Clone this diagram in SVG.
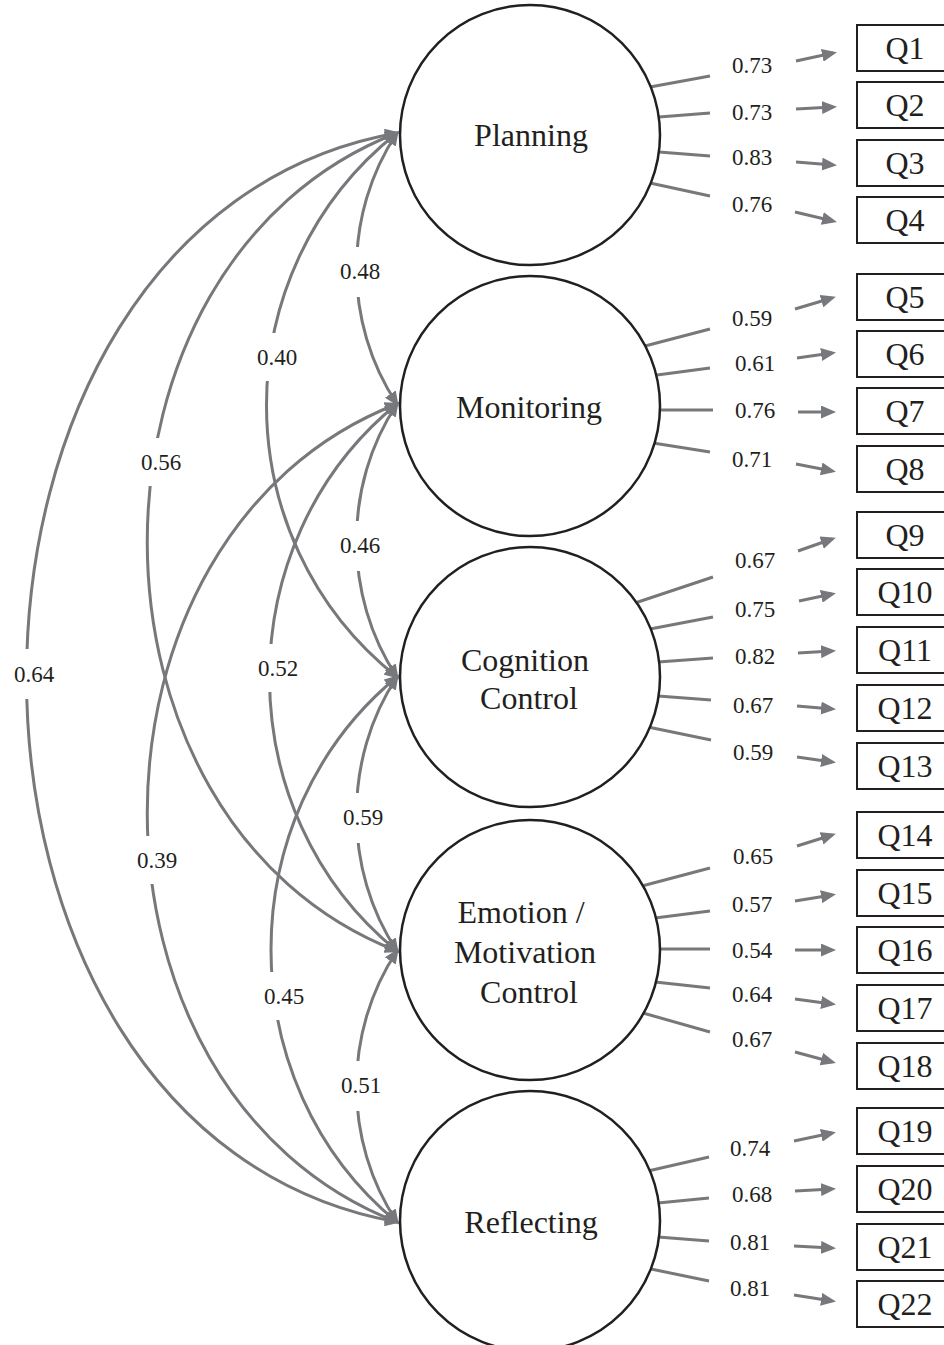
<svg xmlns="http://www.w3.org/2000/svg" width="944" height="1345" viewBox="0 0 944 1345">
<style>
.circ{fill:#fff;stroke:#231f20;stroke-width:2.5}
.box{fill:#fff;stroke:#231f20;stroke-width:2}
.t{font-family:"Liberation Serif","Times New Roman",serif;fill:#231f20;text-anchor:middle}
.big{font-size:32px}
.lbl{font-size:23px}
.load{stroke:#77787b;stroke-width:3;fill:none}
.arr{stroke:#77787b;stroke-width:3;fill:none;marker-end:url(#ah)}
.cov{stroke:#77787b;stroke-width:3;fill:none;marker-start:url(#ah2);marker-end:url(#ah2)}
.bg{fill:#fff}
</style>
<defs>
<marker id="ah" markerUnits="userSpaceOnUse" markerWidth="15" markerHeight="13" viewBox="0 0 15 13" refX="11" refY="6.5" orient="auto"><path d="M0,0 L15,6.5 L0,13 z" fill="#77787b"/></marker>
<marker id="ah2" markerUnits="userSpaceOnUse" markerWidth="15" markerHeight="13" viewBox="0 0 15 13" refX="12" refY="6.5" orient="auto-start-reverse"><path d="M0,0 L15,6.5 L0,13 z" fill="#77787b"/></marker>
</defs>
<rect width="944" height="1345" fill="#fff"/>
<g id="connectors">
<g id="covariances">
<path class="cov" d="M397 133 C343 214 343 323 397 404"/>
<path class="cov" d="M397 404 C343 485 343 596 397 677"/>
<path class="cov" d="M397 677 C343 758 343 870 397 951"/>
<path class="cov" d="M397 951 C343 1032 343 1141 397 1222"/>
<path class="cov" d="M397 133 C223 271 223 539 397 677"/>
<path class="cov" d="M397 404 C227 542 227 813 397 951"/>
<path class="cov" d="M397 677 C229 815 229 1084 397 1222"/>
<path class="cov" d="M397 133 C64 262 64 822 397 951"/>
<path class="cov" d="M397 404 C64 533 64 1093 397 1222"/>
<path class="cov" d="M397 133 C-97 221 -97 1134 397 1222"/>
</g>
<g id="cov-labels">
<rect class="bg" x="336" y="247" width="48" height="50"/><text class="t lbl" x="360" y="279">0.48</text>
<rect class="bg" x="336" y="521" width="48" height="50"/><text class="t lbl" x="360" y="553">0.46</text>
<rect class="bg" x="339" y="793" width="48" height="50"/><text class="t lbl" x="363" y="825">0.59</text>
<rect class="bg" x="337" y="1061" width="48" height="50"/><text class="t lbl" x="361" y="1093">0.51</text>
<rect class="bg" x="253" y="333" width="48" height="48"/><text class="t lbl" x="277" y="365">0.40</text>
<rect class="bg" x="254" y="644" width="48" height="48"/><text class="t lbl" x="278" y="676">0.52</text>
<rect class="bg" x="260" y="972" width="48" height="48"/><text class="t lbl" x="284" y="1004">0.45</text>
<rect class="bg" x="137" y="438" width="48" height="48"/><text class="t lbl" x="161" y="470">0.56</text>
<rect class="bg" x="133" y="836" width="48" height="48"/><text class="t lbl" x="157" y="868">0.39</text>
<rect class="bg" x="10" y="649" width="48" height="50"/><text class="t lbl" x="34" y="682">0.64</text>
</g>
<g id="loadings">
<path class="load" d="M650 87 L710 76"/><path class="load" d="M659 117 L710 113"/><path class="load" d="M659 152 L710 156"/><path class="load" d="M650 183 L710 196"/>
<path class="load" d="M645 346 L710 329"/><path class="load" d="M657 375 L710 368"/><path class="load" d="M658 410 L713 410"/><path class="load" d="M653 443 L710 452"/>
<path class="load" d="M635 603 L713 577"/><path class="load" d="M650 629 L713 617"/><path class="load" d="M658 662 L713 658"/><path class="load" d="M658 696 L711 700"/><path class="load" d="M648 727 L711 740"/>
<path class="load" d="M642 886 L710 868"/><path class="load" d="M655 918 L710 911"/><path class="load" d="M659 949 L710 949"/><path class="load" d="M655 982 L710 988"/><path class="load" d="M643 1013 L710 1032"/>
<path class="load" d="M648 1171 L709 1157"/><path class="load" d="M658 1203 L709 1198"/><path class="load" d="M658 1237 L709 1241"/><path class="load" d="M651 1269 L709 1281"/>
</g>
<g id="arrows">
<path class="arr" d="M796 61 L833 53"/><path class="arr" d="M796 109 L833 107"/><path class="arr" d="M796 162 L833 165"/><path class="arr" d="M795 212 L833 221"/>
<path class="arr" d="M795 309 L832 298"/><path class="arr" d="M797 358 L832 353"/><path class="arr" d="M798 412 L832 412"/><path class="arr" d="M796 464 L832 471"/>
<path class="arr" d="M798 551 L832 539"/><path class="arr" d="M799 601 L832 594"/><path class="arr" d="M798 653 L832 651"/><path class="arr" d="M797 706 L832 709"/><path class="arr" d="M797 757 L832 762"/>
<path class="arr" d="M797 846 L832 835"/><path class="arr" d="M795 901 L832 895"/><path class="arr" d="M795 950 L832 950"/><path class="arr" d="M795 999 L832 1004"/><path class="arr" d="M795 1052 L832 1062"/>
<path class="arr" d="M794 1141 L832 1133"/><path class="arr" d="M795 1191 L832 1189"/><path class="arr" d="M794 1246 L832 1248"/><path class="arr" d="M794 1295 L832 1301"/>
</g>
<g id="loading-labels">
<text class="t lbl" x="752" y="73">0.73</text><text class="t lbl" x="752" y="120">0.73</text><text class="t lbl" x="752" y="165">0.83</text><text class="t lbl" x="752" y="212">0.76</text>
<text class="t lbl" x="752" y="326">0.59</text><text class="t lbl" x="755" y="371">0.61</text><text class="t lbl" x="755" y="418">0.76</text><text class="t lbl" x="752" y="467">0.71</text>
<text class="t lbl" x="755" y="568">0.67</text><text class="t lbl" x="755" y="617">0.75</text><text class="t lbl" x="755" y="664">0.82</text><text class="t lbl" x="753" y="713">0.67</text><text class="t lbl" x="753" y="760">0.59</text>
<text class="t lbl" x="753" y="864">0.65</text><text class="t lbl" x="752" y="912">0.57</text><text class="t lbl" x="752" y="958">0.54</text><text class="t lbl" x="752" y="1002">0.64</text><text class="t lbl" x="752" y="1047">0.67</text>
<text class="t lbl" x="750" y="1156">0.74</text><text class="t lbl" x="752" y="1202">0.68</text><text class="t lbl" x="750" y="1250">0.81</text><text class="t lbl" x="750" y="1296">0.81</text>
</g>
</g>
<g id="planning"><circle class="circ" cx="530" cy="135" r="130"/><text class="t big" x="531" y="146">Planning</text></g>
<g id="monitoring"><circle class="circ" cx="530" cy="406" r="130"/><text class="t big" x="529" y="418">Monitoring</text></g>
<g id="cognition"><circle class="circ" cx="530" cy="677" r="130"/><text class="t big" x="525" y="671">Cognition</text><text class="t big" x="529" y="709">Control</text></g>
<g id="emotion"><circle class="circ" cx="530" cy="950" r="130"/><text class="t big" x="521" y="923">Emotion /</text><text class="t big" x="525" y="963">Motivation</text><text class="t big" x="529" y="1003">Control</text></g>
<g id="reflecting"><circle class="circ" cx="530" cy="1221" r="130"/><text class="t big" x="531" y="1233">Reflecting</text></g>
<g id="Q1"><rect class="box" x="857" y="25" width="100" height="46"/><text class="t big" x="905" y="59">Q1</text></g>
<g id="Q2"><rect class="box" x="857" y="82" width="100" height="46"/><text class="t big" x="905" y="116">Q2</text></g>
<g id="Q3"><rect class="box" x="857" y="140" width="100" height="46"/><text class="t big" x="905" y="174">Q3</text></g>
<g id="Q4"><rect class="box" x="857" y="197" width="100" height="46"/><text class="t big" x="905" y="231">Q4</text></g>
<g id="Q5"><rect class="box" x="857" y="274" width="100" height="46"/><text class="t big" x="905" y="308">Q5</text></g>
<g id="Q6"><rect class="box" x="857" y="331" width="100" height="46"/><text class="t big" x="905" y="365">Q6</text></g>
<g id="Q7"><rect class="box" x="857" y="388" width="100" height="46"/><text class="t big" x="905" y="422">Q7</text></g>
<g id="Q8"><rect class="box" x="857" y="446" width="100" height="46"/><text class="t big" x="905" y="480">Q8</text></g>
<g id="Q9"><rect class="box" x="857" y="512" width="100" height="46"/><text class="t big" x="905" y="546">Q9</text></g>
<g id="Q10"><rect class="box" x="857" y="569" width="100" height="46"/><text class="t big" x="905" y="603">Q10</text></g>
<g id="Q11"><rect class="box" x="857" y="627" width="100" height="46"/><text class="t big" x="905" y="661">Q11</text></g>
<g id="Q12"><rect class="box" x="857" y="685" width="100" height="46"/><text class="t big" x="905" y="719">Q12</text></g>
<g id="Q13"><rect class="box" x="857" y="743" width="100" height="46"/><text class="t big" x="905" y="777">Q13</text></g>
<g id="Q14"><rect class="box" x="857" y="812" width="100" height="46"/><text class="t big" x="905" y="846">Q14</text></g>
<g id="Q15"><rect class="box" x="857" y="870" width="100" height="46"/><text class="t big" x="905" y="904">Q15</text></g>
<g id="Q16"><rect class="box" x="857" y="927" width="100" height="46"/><text class="t big" x="905" y="961">Q16</text></g>
<g id="Q17"><rect class="box" x="857" y="985" width="100" height="46"/><text class="t big" x="905" y="1019">Q17</text></g>
<g id="Q18"><rect class="box" x="857" y="1043" width="100" height="46"/><text class="t big" x="905" y="1077">Q18</text></g>
<g id="Q19"><rect class="box" x="857" y="1108" width="100" height="46"/><text class="t big" x="905" y="1142">Q19</text></g>
<g id="Q20"><rect class="box" x="857" y="1166" width="100" height="46"/><text class="t big" x="905" y="1200">Q20</text></g>
<g id="Q21"><rect class="box" x="857" y="1224" width="100" height="46"/><text class="t big" x="905" y="1258">Q21</text></g>
<g id="Q22"><rect class="box" x="857" y="1281" width="100" height="46"/><text class="t big" x="905" y="1315">Q22</text></g>
</svg>
